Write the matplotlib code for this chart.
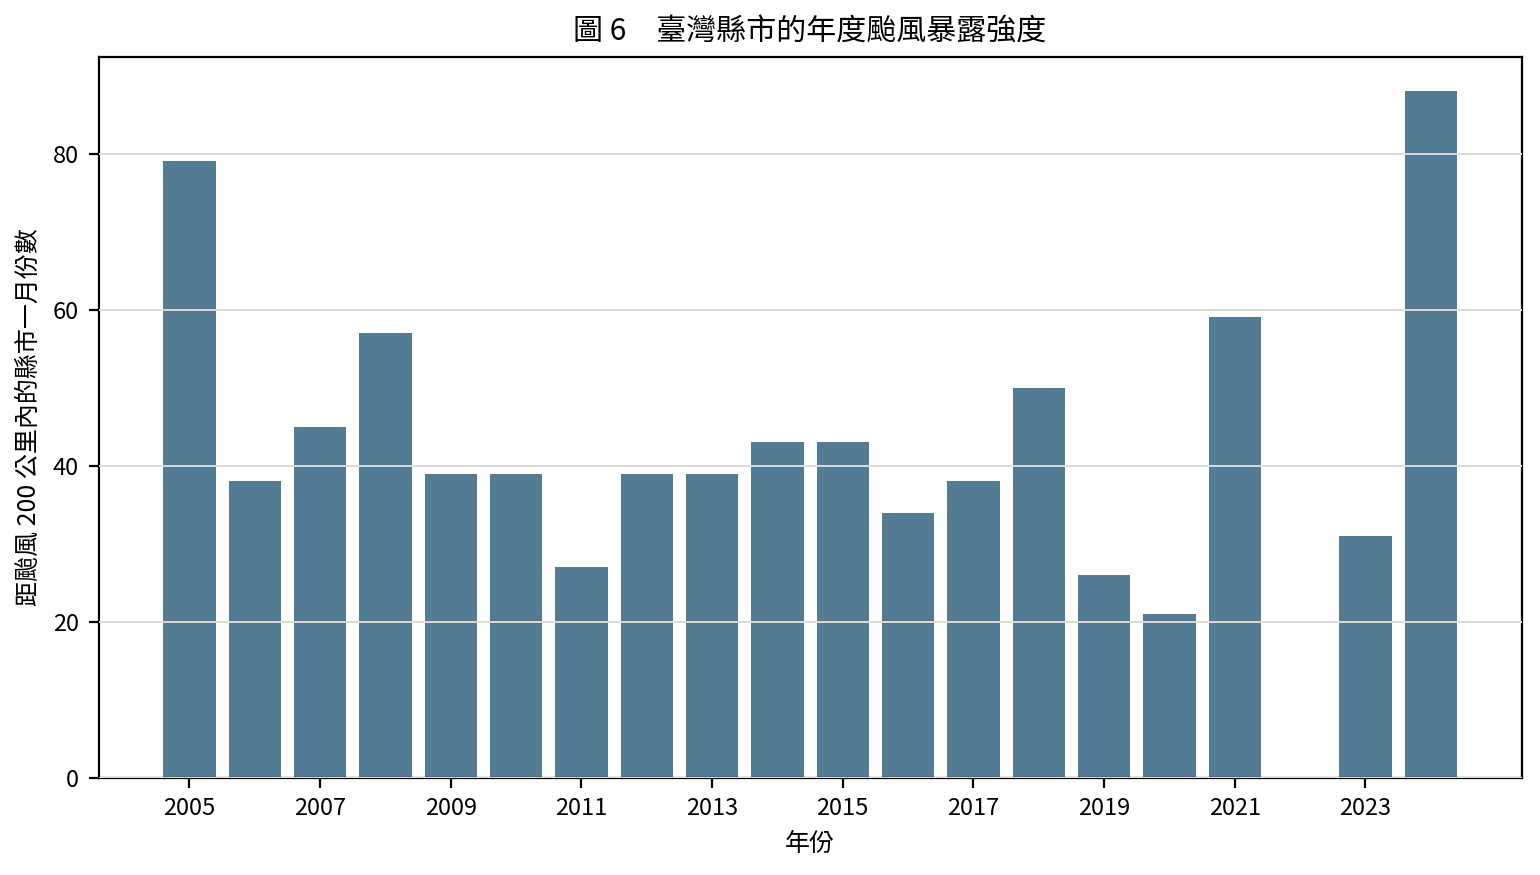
import numpy as np
from matplotlib import pyplot as plt

plt.rcParams['font.family'] = ['Noto Sans CJK TC', 'DejaVu Sans']

# Dados (2022 sem registro)
anos = list(range(2005, 2025))
valores = [79, 38, 45, 57, 39, 39, 27, 39, 39, 43,
           43, 34, 38, 50, 26, 21, 59, 0, 31, 88]
ticks_x = list(range(2005, 2025, 2))

titulo = "圖 6　臺灣縣市的年度颱風暴露強度"
rotulo_x = "年份"
rotulo_y = "距颱風 200 公里內的縣市一月份數"

fig, ax = plt.subplots(figsize=(7.7, 4.375), dpi=200)
ax.bar(anos, valores, width=0.8, color="#537b93", zorder=1)
ax.yaxis.grid(True, color="#dcdcd8", linewidth=0.7, zorder=2)
ax.set_axisbelow(False)

ax.set_xticks(ticks_x)
ax.set_yticks([0, 20, 40, 60, 80])
ax.tick_params(labelsize=8.5)
ax.set_xlabel(rotulo_x, fontsize=9)
ax.set_ylabel(rotulo_y, fontsize=9)
ax.set_title(titulo, fontsize=10.8)

fig.subplots_adjust(left=0.064, right=0.988, top=0.935, bottom=0.111)
fig.savefig("out.png", dpi=200)
